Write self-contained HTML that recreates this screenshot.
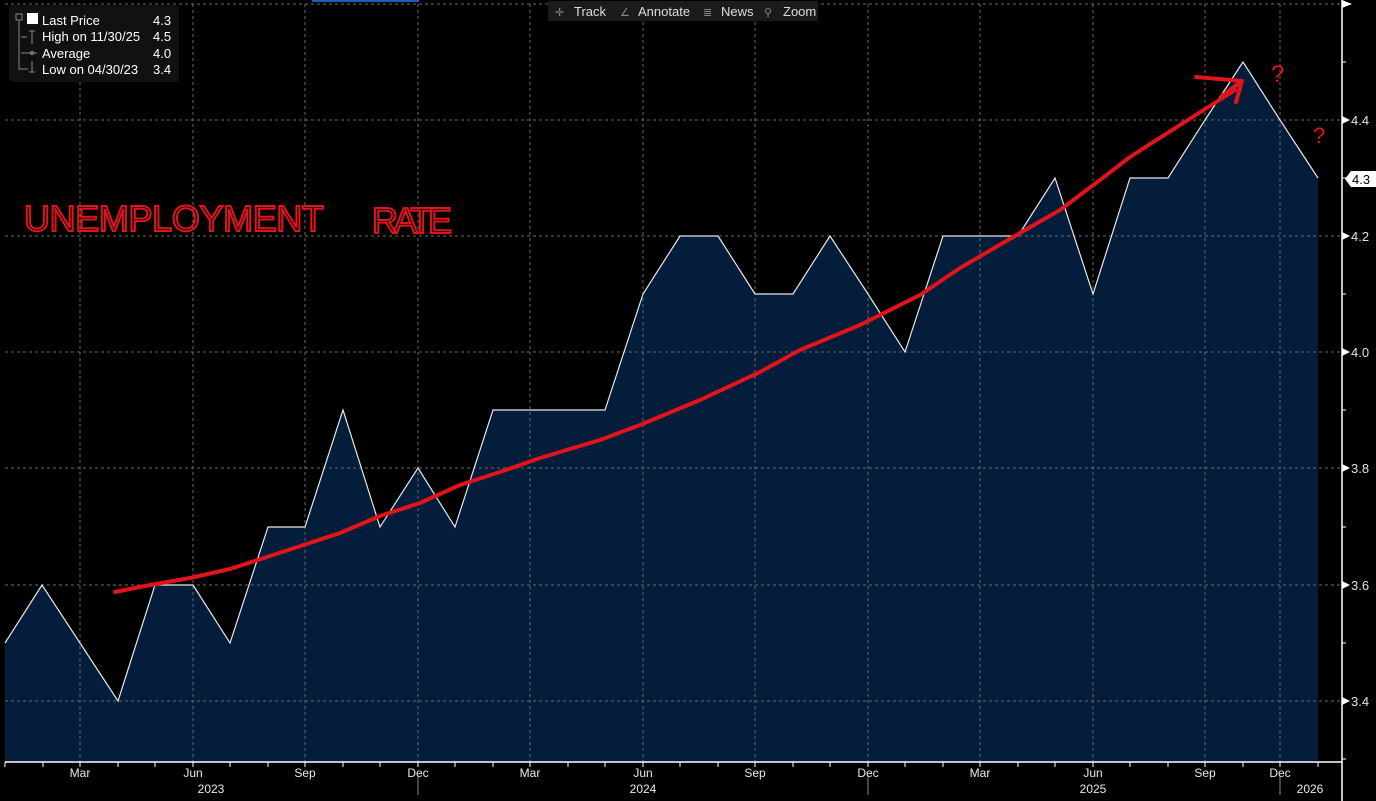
<!DOCTYPE html>
<html><head><meta charset="utf-8"><style>
html,body{margin:0;padding:0;background:#000;width:1376px;height:801px;overflow:hidden;font-family:"Liberation Sans",sans-serif}
</style></head><body>
<svg width="1376" height="801" viewBox="0 0 1376 801" xmlns="http://www.w3.org/2000/svg" font-family="Liberation Sans, sans-serif">
<rect width="1376" height="801" fill="#000"/>
<polygon fill="#031d3a" points="5,762 5,643 42,585 80,643 118,701 155,585 193,585 230,643 268,527 305,527 343,410 380,527 418,468 455,527 493,410 530,410 568,410 605,410 643,294 680,236 718,236 755,294 793,294 830,236 868,294 905,352 943,236 980,236 1018,236 1055,178 1093,294 1130,178 1168,178 1205,120 1243,62 1280,120 1318,178 1318,762"/>
<g stroke="#6a6a6a" stroke-width="1" stroke-dasharray="3,3">
<line x1="5" y1="4" x2="1340" y2="4"/>
<line x1="5" y1="120" x2="1340" y2="120"/>
<line x1="5" y1="236" x2="1340" y2="236"/>
<line x1="5" y1="352" x2="1340" y2="352"/>
<line x1="5" y1="468" x2="1340" y2="468"/>
<line x1="5" y1="585" x2="1340" y2="585"/>
<line x1="5" y1="701" x2="1340" y2="701"/>
<line x1="80" y1="4" x2="80" y2="762"/><line x1="193" y1="4" x2="193" y2="762"/>
<line x1="305" y1="4" x2="305" y2="762"/><line x1="418" y1="4" x2="418" y2="762"/>
<line x1="530" y1="4" x2="530" y2="762"/><line x1="643" y1="4" x2="643" y2="762"/>
<line x1="755" y1="4" x2="755" y2="762"/><line x1="868" y1="4" x2="868" y2="762"/>
<line x1="980" y1="4" x2="980" y2="762"/><line x1="1093" y1="4" x2="1093" y2="762"/>
<line x1="1205" y1="4" x2="1205" y2="762"/><line x1="1280" y1="4" x2="1280" y2="762"/>
</g>
<polyline fill="none" stroke="#e8e8e8" stroke-width="1.2" points="5,643 42,585 80,643 118,701 155,585 193,585 230,643 268,527 305,527 343,410 380,527 418,468 455,527 493,410 530,410 568,410 605,410 643,294 680,236 718,236 755,294 793,294 830,236 868,294 905,352 943,236 980,236 1018,236 1055,178 1093,294 1130,178 1168,178 1205,120 1243,62 1280,120 1318,178"/>
<line x1="5" y1="762" x2="1342" y2="762" stroke="#fff" stroke-width="1.5"/>
<line x1="1342" y1="0" x2="1342" y2="801" stroke="#fff" stroke-width="1.5"/>
<g stroke="#fff" stroke-width="1">
<line x1="5" y1="762" x2="5" y2="767"/><line x1="43" y1="762" x2="43" y2="767"/><line x1="80" y1="762" x2="80" y2="767"/><line x1="118" y1="762" x2="118" y2="767"/><line x1="155" y1="762" x2="155" y2="767"/><line x1="193" y1="762" x2="193" y2="767"/><line x1="230" y1="762" x2="230" y2="767"/><line x1="268" y1="762" x2="268" y2="767"/><line x1="305" y1="762" x2="305" y2="767"/><line x1="343" y1="762" x2="343" y2="767"/><line x1="380" y1="762" x2="380" y2="767"/><line x1="418" y1="762" x2="418" y2="767"/><line x1="455" y1="762" x2="455" y2="767"/><line x1="493" y1="762" x2="493" y2="767"/><line x1="530" y1="762" x2="530" y2="767"/><line x1="568" y1="762" x2="568" y2="767"/><line x1="605" y1="762" x2="605" y2="767"/><line x1="643" y1="762" x2="643" y2="767"/><line x1="680" y1="762" x2="680" y2="767"/><line x1="718" y1="762" x2="718" y2="767"/><line x1="755" y1="762" x2="755" y2="767"/><line x1="793" y1="762" x2="793" y2="767"/><line x1="830" y1="762" x2="830" y2="767"/><line x1="868" y1="762" x2="868" y2="767"/><line x1="905" y1="762" x2="905" y2="767"/><line x1="943" y1="762" x2="943" y2="767"/><line x1="980" y1="762" x2="980" y2="767"/><line x1="1018" y1="762" x2="1018" y2="767"/><line x1="1055" y1="762" x2="1055" y2="767"/><line x1="1093" y1="762" x2="1093" y2="767"/><line x1="1130" y1="762" x2="1130" y2="767"/><line x1="1168" y1="762" x2="1168" y2="767"/><line x1="1205" y1="762" x2="1205" y2="767"/><line x1="1243" y1="762" x2="1243" y2="767"/><line x1="1280" y1="762" x2="1280" y2="767"/><line x1="1318" y1="762" x2="1318" y2="767"/>
<line x1="1342" y1="4" x2="1348" y2="4"/><line x1="1342" y1="62" x2="1346" y2="62"/><line x1="1342" y1="178" x2="1346" y2="178"/><line x1="1342" y1="294" x2="1346" y2="294"/><line x1="1342" y1="410" x2="1346" y2="410"/><line x1="1342" y1="527" x2="1346" y2="527"/><line x1="1342" y1="643" x2="1346" y2="643"/><line x1="1342" y1="759" x2="1346" y2="759"/>
</g>
<g stroke="#888" stroke-width="1"><line x1="418" y1="775" x2="418" y2="795"/><line x1="868" y1="775" x2="868" y2="795"/><line x1="1280" y1="775" x2="1280" y2="795"/></g>
<g fill="#fff"><polygon points="1342,0 1352,4 1342,8"/><polygon points="1342,116 1350,120 1342,124"/><polygon points="1342,232 1350,236 1342,240"/><polygon points="1342,348 1350,352 1342,356"/><polygon points="1342,464 1350,468 1342,472"/><polygon points="1342,581 1350,585 1342,589"/><polygon points="1342,697 1350,701 1342,705"/></g>
<g fill="#d8e4f0" font-size="13"><text x="1351" y="125">4.4</text><text x="1351" y="241">4.2</text><text x="1351" y="357">4.0</text><text x="1351" y="473">3.8</text><text x="1351" y="590">3.6</text><text x="1351" y="706">3.4</text></g>
<polygon points="1345,179 1351,171 1376,171 1376,187 1351,187" fill="#fff"/>
<text x="1352" y="184" font-size="13" fill="#000">4.3</text>
<g fill="#e8e8e8" font-size="12" text-anchor="middle">
<text x="80" y="777">Mar</text><text x="193" y="777">Jun</text><text x="305" y="777">Sep</text><text x="418" y="777">Dec</text>
<text x="530" y="777">Mar</text><text x="643" y="777">Jun</text><text x="755" y="777">Sep</text><text x="868" y="777">Dec</text>
<text x="980" y="777">Mar</text><text x="1093" y="777">Jun</text><text x="1205" y="777">Sep</text><text x="1280" y="777">Dec</text>
<text x="211" y="793">2023</text><text x="643" y="793">2024</text><text x="1093" y="793">2025</text><text x="1310" y="793">2026</text>
</g>
<rect x="9" y="5" width="170" height="77" rx="3" fill="#111"/>
<rect x="16" y="14" width="6" height="6" fill="none" stroke="#888"/>
<rect x="27" y="13" width="11" height="11" fill="#fff"/>
<g stroke="#888" fill="none"><path d="M19,21 V69 H24"/><path d="M21,37 H27 M32,31 V44 M29,31 H35"/><path d="M21,53 H37"/><circle cx="32" cy="53" r="1.5"/><path d="M21,69 H28 M32,61 V72 M29,72 H35"/></g>
<g fill="#fff" font-size="13"><text x="42" y="25">Last Price</text><text x="42" y="41">High on 11/30/25</text><text x="42" y="58">Average</text><text x="42" y="74">Low on 04/30/23</text>
<text x="153" y="25">4.3</text><text x="153" y="41">4.5</text><text x="153" y="58">4.0</text><text x="153" y="74">3.4</text></g>
<rect x="548" y="1" width="270" height="20" fill="#1b1b1b"/>
<g fill="#ddd" font-size="13"><text x="574" y="16">Track</text><text x="638" y="16">Annotate</text><text x="721" y="16">News</text><text x="783" y="16">Zoom</text></g>
<g fill="#888" font-size="11"><text x="555" y="16">✛</text><text x="620" y="16">∠</text><text x="703" y="16">≣</text><text x="764" y="16">⚲</text></g>
<rect x="312" y="0" width="107" height="2" fill="#1560c0"/>
<g fill="none" stroke="#e0141a" stroke-width="2" font-size="36">
<text x="24" y="231" textLength="300" lengthAdjust="spacing">UNEMPLOYMENT</text>
<text x="372" y="233" textLength="80" lengthAdjust="spacing">RATE</text>
</g>
<polyline fill="none" stroke="#e0141a" stroke-width="4" stroke-linecap="round" stroke-linejoin="round" points="115,592 150,585 190,578 230,569 270,556 340,533 380,516 420,503 460,485 500,472 540,458 600,440 640,425 700,400 760,372 800,350 860,325 920,295 960,268 1020,233 1060,210 1100,180 1130,157 1180,125 1235,90"/>
<path d="M1196,77 L1242,81 M1222,96 L1242,81 L1236,102" fill="none" stroke="#e0141a" stroke-width="4" stroke-linecap="round" stroke-linejoin="round"/>
<text x="1271" y="82" font-size="24" fill="#e0141a">?</text>
<text x="1313" y="143" font-size="22" fill="#e0141a">?</text>
</svg>
</body></html>
